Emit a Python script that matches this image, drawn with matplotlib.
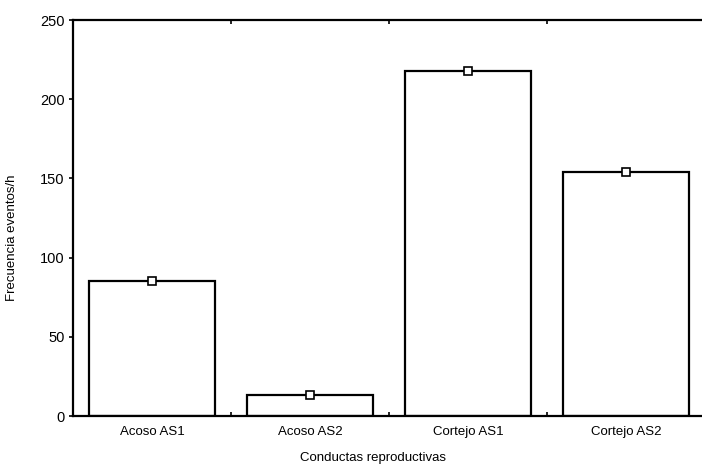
import numpy as np
import matplotlib
matplotlib.use("Agg")
import matplotlib.pyplot as plt

plt.rcParams['font.family'] = ['Liberation Sans', 'DejaVu Sans']

# datos
categorias = ["Acoso AS1", "Acoso AS2", "Cortejo AS1", "Cortejo AS2"]
frecuencias = [85, 13, 218, 154]
y_ticks = [0, 50, 100, 150, 200, 250]

fig = plt.figure(figsize=(7.02, 4.69), dpi=100)
W, H = 702, 469
ax = fig.add_axes([73 / W, 1 - 416 / H, (705 - 73) / W, (416 - 20) / H])

x = np.arange(len(categorias))
ax.bar(x, frecuencias, width=0.8, color='white', edgecolor='black', linewidth=1.6, zorder=2)
ax.plot(x, frecuencias, linestyle='none', marker='s', markersize=6,
        markerfacecolor='white', markeredgecolor='black', markeredgewidth=1.2, zorder=3)

ax.set_xlim(-0.5, 3.5)
ax.set_ylim(0, 250)
ax.set_yticks(y_ticks)
ax.set_xticks(x)
ax.set_xticklabels(categorias, fontsize=9.5)
ax.set_xticks(x[:-1] + 0.5, minor=True)
ax.tick_params(axis='x', which='major', length=0, pad=7)
ax.tick_params(axis='x', which='minor', direction='in', length=3, width=1.2, top=True, bottom=True)
ax.tick_params(axis='y', which='major', direction='out', length=3, width=1.2, labelsize=10.5, pad=3)

for s in ax.spines.values():
    s.set_linewidth(1.6)

ax.set_xlabel("Conductas reproductivas", fontsize=9.5)
ax.xaxis.set_label_coords((373 - 73) / (705 - 73), -0.092)
ax.set_ylabel("Frecuencia eventos/h", fontsize=9.5)
ax.yaxis.set_label_coords(-0.087, (416 - 238) / 396)

fig.savefig("out.png", dpi=100)
